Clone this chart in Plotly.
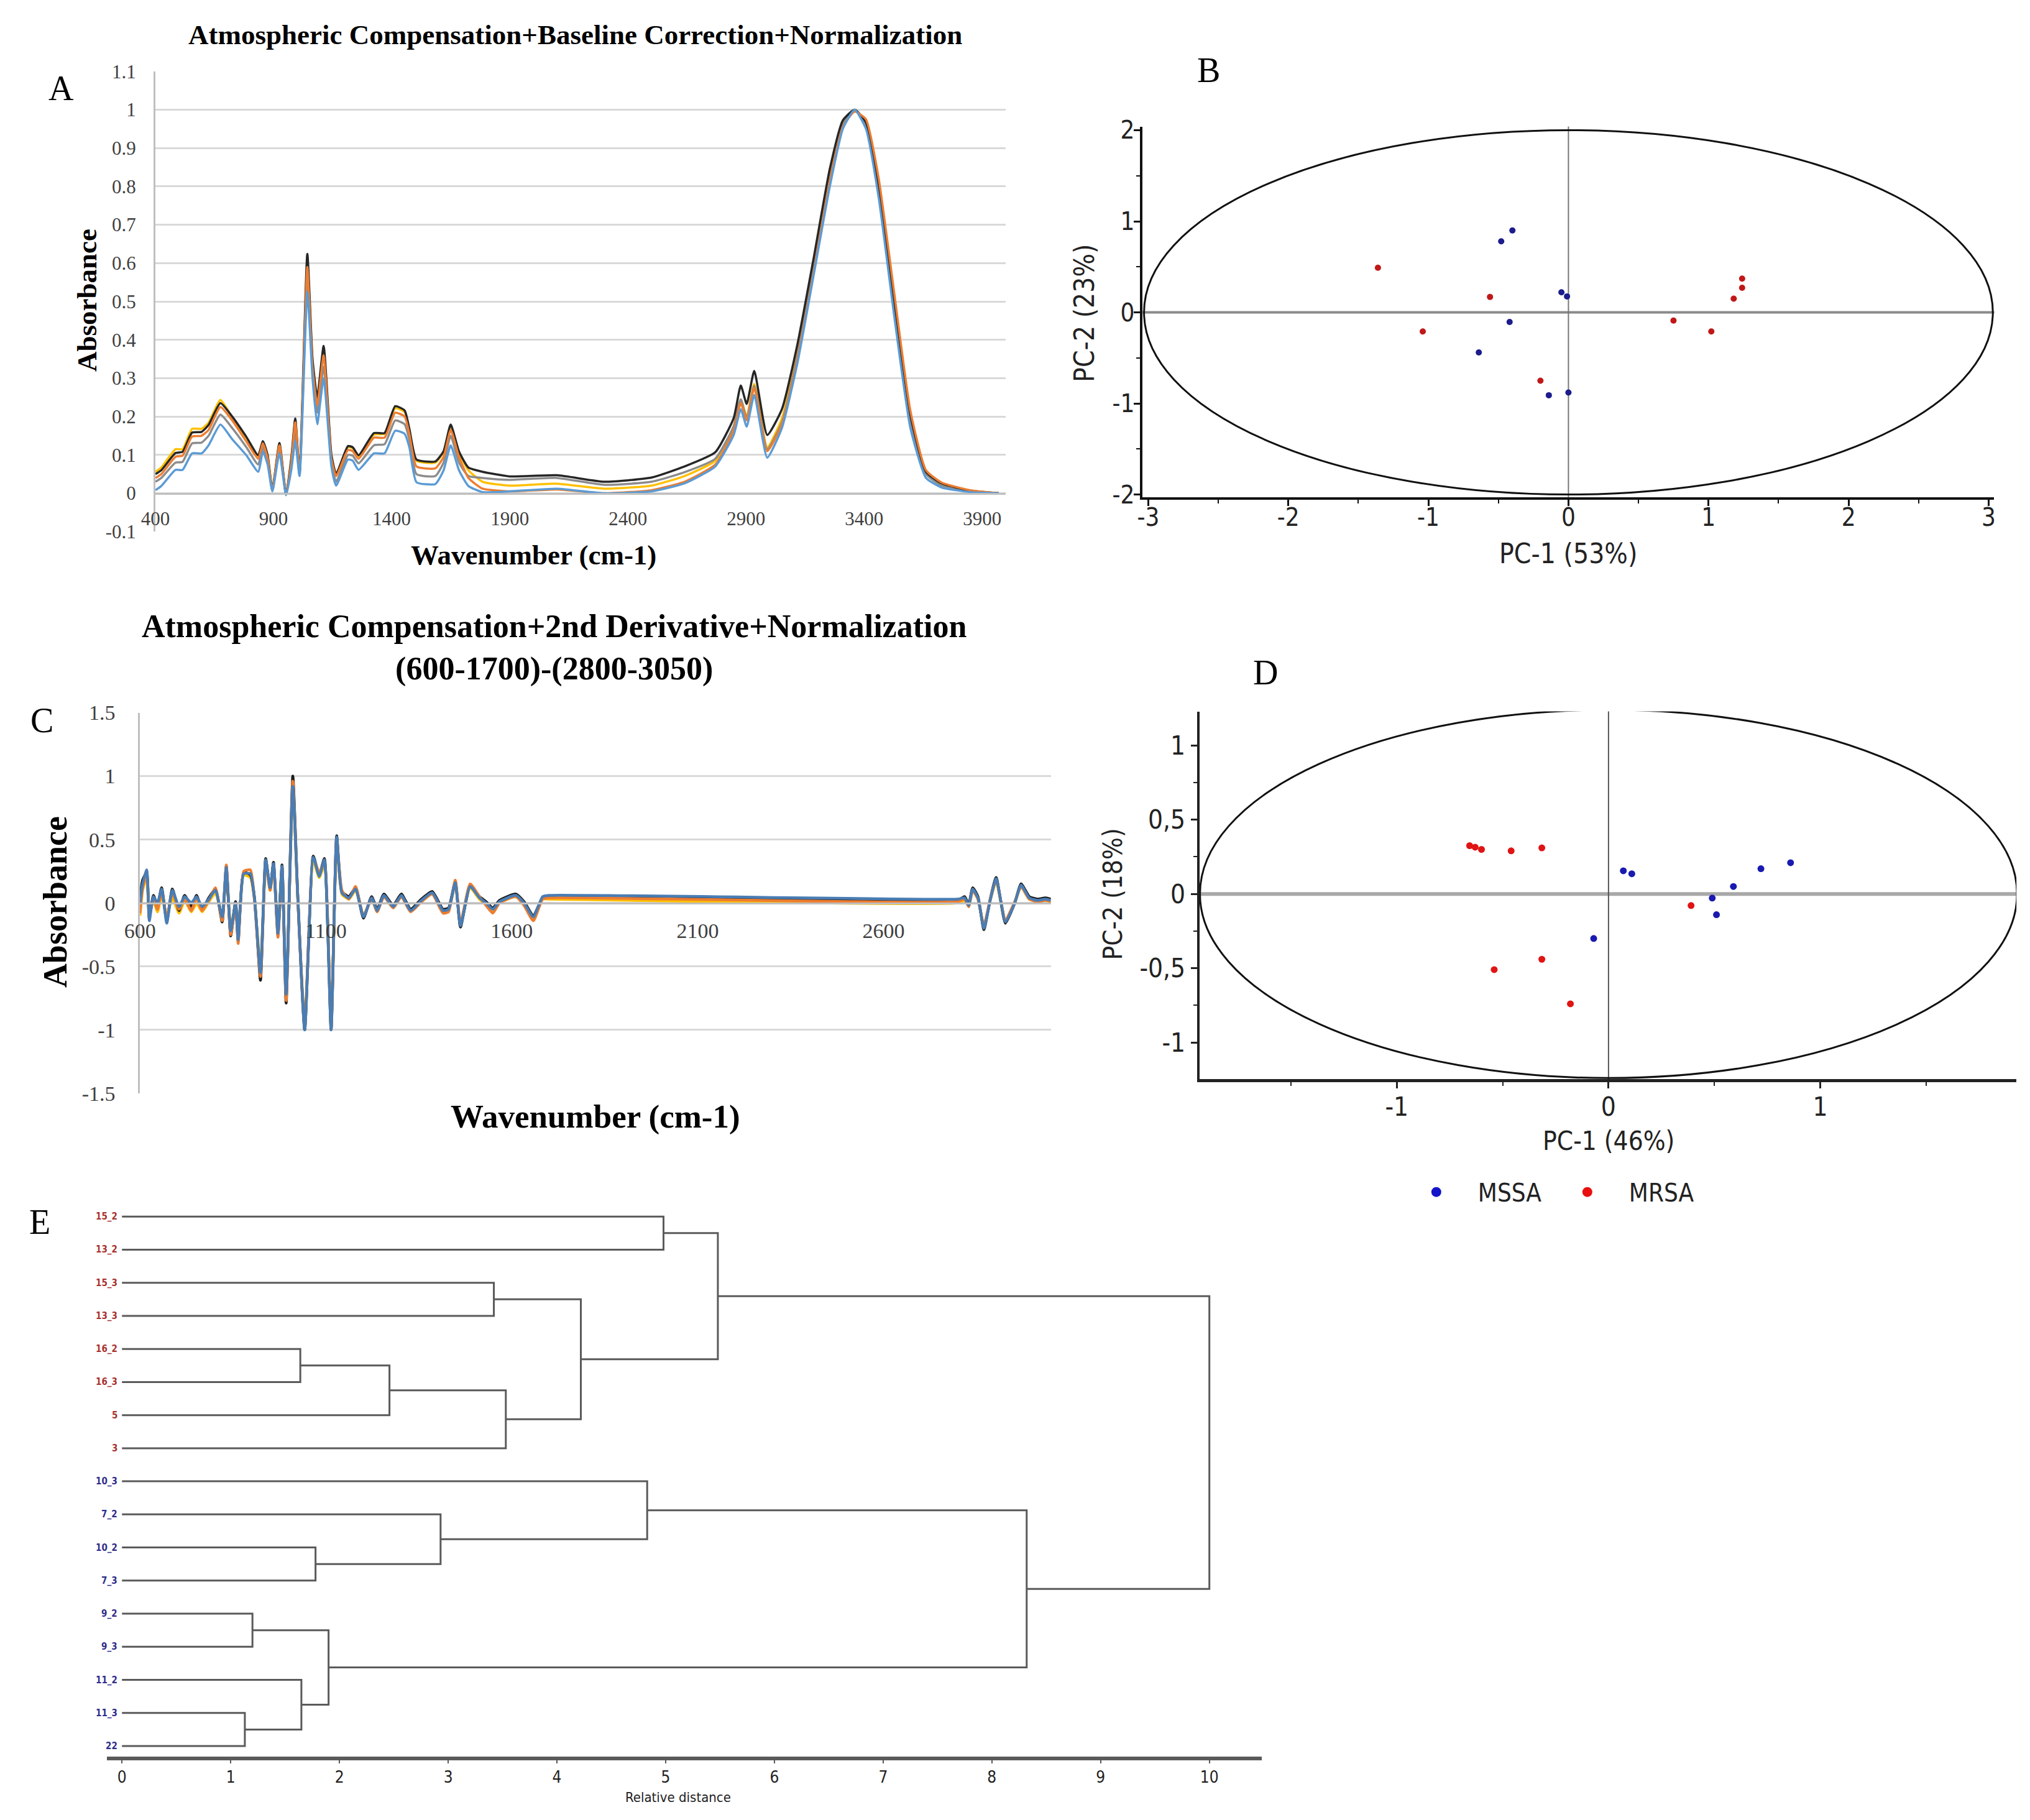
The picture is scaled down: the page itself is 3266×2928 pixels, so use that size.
import plotly.graph_objects as go

W, H = 3266, 2928
SERIF = "Liberation Serif, Times New Roman, serif"
NARROW = "Liberation Sans Narrow, Arial Narrow, DejaVu Sans Condensed, Liberation Sans, Arial, sans-serif"

# ---------------- Panel A : baseline-corrected spectra ----------------
WN_A = [400, 425, 485, 515, 555, 595, 625, 675, 725, 785,
        835, 855, 875, 895, 925, 953, 975, 992, 1010, 1043,
        1065, 1085, 1112, 1145, 1165, 1215, 1235, 1260, 1325, 1370,
        1415, 1455, 1475, 1505, 1585, 1620, 1650, 1685, 1725, 1785,
        1900, 2100, 2300, 2500, 2640, 2770, 2848, 2878, 2903, 2935,
        2990, 3052, 3118, 3186, 3255, 3310, 3360, 3408, 3462, 3528,
        3596, 3662, 3728, 3850, 3970]
A_GOLD = [.056, .067, .115, .115, .168, .168, .184, .243, .198, .145,
          .097, .134, .097, .011, .129, -.003, .088, .19, .052, .60,
          .345, .24, .37, .095, .05, .12, .118, .097, .153, .155,
          .222, .212, .165, .085, .08, .108, .176, .105, .06, .03,
          .02, .025, .012, .02, .045, .085, .175, .245, .2, .285,
          .12, .195, .37, .595, .83, .965, 1.0, .962, .79, .49,
          .195, .05, .022, .005, .0]
A_BLACK = [.05, .06, .105, .108, .158, .16, .178, .235, .2, .147,
           .099, .136, .099, .01, .131, -.002, .09, .195, .053, .624,
           .35, .25, .384, .1, .05, .123, .12, .099, .157, .157,
           .227, .216, .168, .088, .083, .11, .179, .109, .067, .056,
           .044, .047, .03, .041, .07, .107, .196, .281, .233, .319,
           .152, .219, .389, .611, .846, .972, 1.0, .967, .80, .50,
           .204, .056, .026, .007, .0]
A_ORANGE = [.04, .05, .095, .098, .148, .15, .165, .225, .19, .135,
            .09, .13, .092, .008, .125, -.004, .08, .185, .05, .59,
            .33, .23, .36, .09, .045, .113, .11, .09, .145, .145,
            .21, .2, .155, .07, .065, .095, .165, .095, .04, .012,
            .005, .01, .0, .008, .03, .075, .165, .235, .19, .275,
            .11, .18, .35, .575, .815, .955, .995, .975, .82, .52,
            .215, .06, .028, .008, .0]
A_GRAY = [.03, .04, .08, .082, .13, .132, .15, .205, .17, .12,
          .075, .12, .085, .007, .115, -.004, .072, .16, .048, .56,
          .32, .21, .33, .08, .03, .1, .098, .078, .125, .128,
          .19, .18, .14, .05, .045, .08, .15, .08, .045, .04,
          .035, .04, .022, .03, .055, .09, .175, .245, .195, .28,
          .115, .185, .36, .585, .825, .96, 1.0, .96, .785, .48,
          .19, .05, .02, .005, .0]
A_BLUE = [.008, .019, .061, .061, .104, .104, .125, .179, .141, .099,
          .056, .109, .075, .005, .105, -.005, .06, .136, .045, .525,
          .30, .18, .30, .07, .02, .088, .085, .061, .104, .104,
          .163, .155, .12, .029, .024, .06, .125, .06, .019, .003,
          .005, .012, .0, .005, .026, .07, .152, .219, .174, .256,
          .093, .17, .34, .567, .80, .95, 1.0, .95, .77, .46,
          .17, .04, .015, .003, .0]
A_SERIES = [("Spectrum 1", A_GOLD, "#FFC000"), ("Spectrum 2", A_GRAY, "#8C8C8C"),
            ("Spectrum 3", A_BLACK, "#262626"), ("Spectrum 4", A_ORANGE, "#ED7D31"),
            ("Spectrum 5", A_BLUE, "#5B9BD5")]
A_XTICKS = [400, 900, 1400, 1900, 2400, 2900, 3400, 3900]
A_YTICKS = [-0.1, 0, 0.1, 0.2, 0.3, 0.4, 0.5, 0.6, 0.7, 0.8, 0.9, 1, 1.1]
A_YLABELS = ["-0.1", "0", "0.1", "0.2", "0.3", "0.4", "0.5", "0.6", "0.7", "0.8", "0.9", "1", "1.1"]

# ---------------- Panel C : second derivative spectra ----------------
WN_C = [600, 607, 618, 625, 636, 647, 658, 672, 687, 705,
        720, 738, 752, 767, 785, 803, 821, 832, 844, 857,
        864, 879, 897, 908, 924, 938, 950, 959, 971, 982,
        993, 1011, 1024, 1043, 1066, 1082, 1096, 1114, 1129, 1143,
        1162, 1180, 1201, 1223, 1238, 1256, 1281, 1303, 1328, 1357,
        1386, 1415, 1430, 1448, 1462, 1488, 1513, 1531, 1549, 1567,
        1611, 1633, 1658, 1683, 1700, 2800, 2818, 2829, 2840, 2854,
        2870, 2887, 2903, 2928, 2953, 2970, 2992, 3014, 3036, 3050]
C_BLUE = [0.0, 0.15, 0.26, -0.14, 0.05, 0.0, 0.11, -0.16, 0.10, -0.03,
          0.05, 0.0, 0.05, -0.03, 0.03, 0.10, -0.11, 0.28, -0.22, 0.0,
          -0.29, 0.23, 0.23, 0.03, -0.55, 0.34, 0.12, 0.31, -0.24, 0.29,
          -0.72, 0.92, 0.08, -1.0, 0.36, 0.21, 0.34, -1.0, 0.52, 0.08,
          0.04, 0.11, -0.11, 0.04, -0.06, 0.06, -0.03, 0.06, -0.06, 0.02,
          0.08, -0.06, -0.05, 0.16, -0.18, 0.13, 0.04, 0.0, -0.05, 0.01,
          0.06, 0.0, -0.11, 0.05, 0.06, 0.03, 0.04, -0.02, 0.11, 0.04,
          -0.20, 0.02, 0.19, -0.15, 0.0, 0.14, 0.04, 0.02, 0.03, 0.02]
C_ORANGE = [-0.08, 0.12, 0.22, -0.10, 0.03, -0.05, 0.09, -0.12, 0.08, -0.05,
            0.03, -0.06, 0.04, -0.06, 0.02, 0.12, -0.14, 0.30, -0.25, -0.02,
            -0.32, 0.25, 0.26, 0.02, -0.58, 0.32, 0.10, 0.30, -0.27, 0.28,
            -0.77, 0.96, 0.06, -0.98, 0.35, 0.24, 0.32, -0.98, 0.50, 0.10,
            0.03, 0.13, -0.10, 0.03, -0.07, 0.05, -0.04, 0.05, -0.07, 0.01,
            0.07, -0.08, -0.07, 0.18, -0.16, 0.15, 0.05, -0.02, -0.08, 0.0,
            0.05, -0.02, -0.14, 0.03, 0.04, 0.01, 0.03, -0.03, 0.10, 0.03,
            -0.18, 0.03, 0.18, -0.13, 0.01, 0.13, 0.03, 0.01, 0.02, 0.01]
C_BLACK = [0.05, 0.18, 0.24, -0.12, 0.06, -0.02, 0.12, -0.14, 0.11, -0.06,
           0.06, -0.03, 0.06, -0.05, 0.04, 0.11, -0.15, 0.29, -0.26, 0.01,
           -0.30, 0.24, 0.22, 0.04, -0.61, 0.35, 0.11, 0.32, -0.25, 0.30,
           -0.79, 1.0, 0.07, -1.0, 0.37, 0.22, 0.35, -1.0, 0.53, 0.09,
           0.05, 0.12, -0.12, 0.05, -0.05, 0.07, -0.02, 0.07, -0.05, 0.03,
           0.09, -0.05, -0.04, 0.17, -0.19, 0.14, 0.05, 0.01, -0.04, 0.02,
           0.07, 0.01, -0.10, 0.04, 0.05, 0.02, 0.05, -0.01, 0.12, 0.05,
           -0.21, 0.03, 0.20, -0.16, 0.0, 0.15, 0.05, 0.03, 0.04, 0.03]
C_GOLD = [-0.10, 0.10, 0.20, -0.08, 0.02, -0.07, 0.06, -0.10, 0.04, -0.08,
          0.02, -0.07, 0.0, -0.07, 0.01, 0.08, -0.10, 0.24, -0.20, 0.0,
          -0.27, 0.22, 0.20, 0.02, -0.50, 0.30, 0.10, 0.28, -0.20, 0.26,
          -0.70, 0.90, 0.06, -0.95, 0.33, 0.20, 0.30, -0.95, 0.48, 0.07,
          0.03, 0.10, -0.10, 0.03, -0.06, 0.05, -0.03, 0.05, -0.06, 0.01,
          0.07, -0.06, -0.05, 0.15, -0.17, 0.12, 0.03, -0.01, -0.06, 0.0,
          0.05, -0.01, -0.12, 0.03, 0.03, 0.0, 0.02, -0.02, 0.10, 0.03,
          -0.18, 0.02, 0.17, -0.14, 0.0, 0.13, 0.03, 0.01, 0.02, 0.01]
C_SERIES = [("Spectrum 1", C_GOLD, "#FFC000"), ("Spectrum 2", C_BLACK, "#1A1A1A"),
            ("Spectrum 3", C_ORANGE, "#ED7D31"), ("Spectrum 4", C_BLUE, "#4A7DB4")]
C_XTICKS = [600, 1100, 1600, 2100, 2600]
C_YTICKS = [-1.5, -1, -0.5, 0, 0.5, 1, 1.5]
C_YLABELS = ["-1.5", "-1", "-0.5", "0", "0.5", "1", "1.5"]

# ---------------- Panel B : PCA scores ----------------
B_MSSA_X = [-0.40, -0.48, -0.05, -0.01, -0.42, -0.64, -0.14, 0.0]
B_MSSA_Y = [0.90, 0.78, 0.22, 0.175, -0.105, -0.44, -0.91, -0.88]
B_MRSA_X = [-1.36, -0.56, -1.04, -0.20, 0.75, 1.02, 1.18, 1.24, 1.24]
B_MRSA_Y = [0.49, 0.17, -0.21, -0.75, -0.09, -0.21, 0.15, 0.27, 0.37]
B_ELLIPSE = (3.03, 2.0)
B_TICKS_X = [-3, -2, -1, 0, 1, 2, 3]
B_TICKS_Y = [-2, -1, 0, 1, 2]

# ---------------- Panel D : PCA scores ----------------
D_MSSA_X = [0.07, 0.11, 0.59, 0.49, 0.51, 0.72, 0.86, -0.07]
D_MSSA_Y = [0.156, 0.136, 0.05, -0.028, -0.14, 0.17, 0.21, -0.30]
D_MRSA_X = [-0.656, -0.63, -0.60, -0.46, -0.315, 0.39, -0.315, -0.54, -0.18]
D_MRSA_Y = [0.325, 0.315, 0.30, 0.29, 0.31, -0.078, -0.44, -0.51, -0.74]
D_ELLIPSE = (1.93, 1.24)
D_TICKS_X = [-1, 0, 1]
D_TICKS_Y = [-1, -0.5, 0, 0.5, 1]
D_LABELS_Y = ["-1", "-0,5", "0", "0,5", "1"]
GROUPS = ["MSSA", "MRSA"]
GROUP_COLORS = {"MSSA": "#1414C8", "MRSA": "#E81010"}

# ---------------- Panel E : dendrogram ----------------
LEAVES = ["15_2", "13_2", "15_3", "13_3", "16_2", "16_3", "5", "3",
          "10_3", "7_2", "10_2", "7_3", "9_2", "9_3", "11_2", "11_3", "22"]
LEAF_GROUP = ["MRSA"] * 8 + ["MSSA"] * 9
MERGE_A = [0, 2, 4, 19, 20, 18, 17, 10, 9, 8, 12, 15, 14, 27, 26, 23]
MERGE_B = [1, 3, 5, 6, 7, 21, 22, 11, 24, 25, 13, 16, 28, 29, 30, 31]
MERGE_H = [4.98, 3.42, 1.64, 2.46, 3.53, 4.22, 5.48, 1.78, 2.93, 4.83,
           1.20, 1.13, 1.65, 1.90, 8.32, 10.0]
E_TICKS = [0, 1, 2, 3, 4, 5, 6, 7, 8, 9, 10]


def dom_x(left, right):
    return [left / W, right / W]


def dom_y(top, bottom):
    return [1 - bottom / H, 1 - top / H]


def zero_position(dom, rng):
    return dom[0] + (0 - rng[0]) / (rng[1] - rng[0]) * (dom[1] - dom[0])


fig = go.Figure()

for name, vals, col in A_SERIES:
    fig.add_trace(go.Scatter(x=WN_A, y=vals, mode="lines", name=name, showlegend=False,
                             line=dict(color=col, width=3.5, shape="spline", smoothing=0.5),
                             xaxis="x", yaxis="y"))

for name, vals, col in C_SERIES:
    fig.add_trace(go.Scatter(x=WN_C, y=vals, mode="lines", name=name, showlegend=False,
                             line=dict(color=col, width=4.5, shape="spline", smoothing=0.5),
                             xaxis="x3", yaxis="y3"))

fig.add_trace(go.Scatter(x=B_MSSA_X, y=B_MSSA_Y, mode="markers", name="MSSA", showlegend=False,
                         legendgroup="MSSA", marker=dict(color="#1C1C8C", size=10),
                         xaxis="x2", yaxis="y2"))
fig.add_trace(go.Scatter(x=B_MRSA_X, y=B_MRSA_Y, mode="markers", name="MRSA", showlegend=False,
                         legendgroup="MRSA", marker=dict(color="#C01818", size=10),
                         xaxis="x2", yaxis="y2"))

fig.add_trace(go.Scatter(x=D_MSSA_X, y=D_MSSA_Y, mode="markers", name="MSSA", showlegend=False,
                         legendgroup="MSSA", marker=dict(color="#1A1AB0", size=11),
                         xaxis="x4", yaxis="y4"))
fig.add_trace(go.Scatter(x=D_MRSA_X, y=D_MRSA_Y, mode="markers", name="MRSA", showlegend=False,
                         legendgroup="MRSA", marker=dict(color="#E01414", size=11),
                         xaxis="x4", yaxis="y4"))
for g in GROUPS:
    fig.add_trace(go.Scatter(x=[None], y=[None], mode="markers", name=g, legendgroup=g,
                             showlegend=True, marker=dict(color=GROUP_COLORS[g], size=16),
                             xaxis="x4", yaxis="y4"))

node_x = {i: 0.0 for i in range(len(LEAVES))}
node_y = {i: float(i) for i in range(len(LEAVES))}
dx, dy = [], []
for k, (a, b, h) in enumerate(zip(MERGE_A, MERGE_B, MERGE_H)):
    nid = len(LEAVES) + k
    dx += [node_x[a], h, h, node_x[b], None]
    dy += [node_y[a], node_y[a], node_y[b], node_y[b], None]
    node_x[nid] = h
    node_y[nid] = (node_y[a] + node_y[b]) / 2
fig.add_trace(go.Scatter(x=dx, y=dy, mode="lines", name="dendrogram", showlegend=False,
                         line=dict(color="#5A5A5A", width=3), xaxis="x5", yaxis="y5"))

A_XDOM, A_YDOM = dom_x(226, 1606), dom_y(98, 848)
A_XR, A_YR = [400, 4000], [-0.1, 1.1]
B_XDOM, B_YDOM = dom_x(1828, 3210), dom_y(188, 792)
B_XR, B_YR = [-3.04, 3.04], [-2.03, 2.04]
C_XDOM, C_YDOM = dom_x(201, 1679), dom_y(1143, 1763)
C_XR, C_YR = [600, 3050], [-1.5, 1.5]
D_XDOM, D_YDOM = dom_x(1920, 3246), dom_y(1141, 1740)
D_XR, D_YR = [-1.933, 1.927], [-1.247, 1.229]
E_XDOM, E_YDOM = dom_x(147, 2021), dom_y(1950, 2844)
E_XR, E_YR = [-0.14, 10.48], [16.32, -0.26]

serif_tick = dict(family=SERIF, size=31, color="#404040")
serif_tick_c = dict(family=SERIF, size=34, color="#404040")
narrow_tick = dict(family=NARROW, size=40, color="#222222")
narrow_tick_d = dict(family=NARROW, size=42, color="#222222")

layout = dict(
    width=W, height=H, margin=dict(l=0, r=0, t=0, b=0),
    paper_bgcolor="white", plot_bgcolor="white",
    xaxis=dict(domain=A_XDOM, range=A_XR, anchor="free", position=zero_position(A_YDOM, A_YR),
               tickmode="array", tickvals=A_XTICKS, ticktext=[str(v) for v in A_XTICKS],
               showgrid=False, zeroline=False, showline=True, linecolor="#BFBFBF", linewidth=3,
               ticks="outside", ticklen=12, tickcolor="rgba(0,0,0,0)", tickfont=serif_tick),
    yaxis=dict(domain=A_YDOM, range=A_YR, anchor="x", tickmode="array", tickvals=A_YTICKS,
               ticktext=A_YLABELS, showgrid=True, gridcolor="#D9D9D9", gridwidth=3,
               zeroline=False, showline=True, linecolor="#BFBFBF", linewidth=3,
               ticks="outside", ticklen=22, tickcolor="rgba(0,0,0,0)", tickfont=serif_tick),
    xaxis3=dict(domain=C_XDOM, range=C_XR, anchor="free", position=zero_position(C_YDOM, C_YR),
                tickmode="array", tickvals=C_XTICKS, ticktext=[str(v) for v in C_XTICKS],
                showgrid=False, zeroline=False, showline=True, linecolor="#BFBFBF", linewidth=3,
                ticks="outside", ticklen=14, tickcolor="rgba(0,0,0,0)", tickfont=serif_tick_c),
    yaxis3=dict(domain=C_YDOM, range=C_YR, anchor="x3", tickmode="array", tickvals=C_YTICKS,
                ticktext=C_YLABELS, showgrid=True, gridcolor="#D9D9D9", gridwidth=3,
                zeroline=False, showline=True, linecolor="#BFBFBF", linewidth=3,
                ticks="outside", ticklen=30, tickcolor="rgba(0,0,0,0)", tickfont=serif_tick_c),
    xaxis2=dict(domain=B_XDOM, range=B_XR, anchor="y2", tickmode="array", tickvals=B_TICKS_X,
                ticktext=[str(v) for v in B_TICKS_X], showgrid=False, zeroline=False,
                showline=True, linecolor="#111111", linewidth=4, ticks="outside", ticklen=10,
                tickwidth=3, tickcolor="#111111", tickfont=narrow_tick, ticklabelstandoff=-16,
                minor=dict(dtick=0.5, tick0=0, ticks="outside", ticklen=6, tickwidth=2,
                           tickcolor="#111111", showgrid=False)),
    yaxis2=dict(domain=B_YDOM, range=B_YR, anchor="x2", tickmode="array", tickvals=B_TICKS_Y,
                ticktext=[str(v) for v in B_TICKS_Y], showgrid=False, zeroline=False,
                showline=True, linecolor="#111111", linewidth=4, ticks="outside", ticklen=10,
                tickwidth=3, tickcolor="#111111", tickfont=narrow_tick, ticklabelstandoff=-9,
                minor=dict(dtick=0.5, tick0=0, ticks="outside", ticklen=6, tickwidth=2,
                           tickcolor="#111111", showgrid=False)),
    xaxis4=dict(domain=D_XDOM, range=D_XR, anchor="y4", tickmode="array", tickvals=D_TICKS_X,
                ticktext=[str(v) for v in D_TICKS_X], showgrid=False, zeroline=False,
                showline=True, linecolor="#222222", linewidth=5, ticks="outside", ticklen=10,
                tickwidth=3, tickcolor="#222222", tickfont=narrow_tick_d, ticklabelstandoff=-6,
                minor=dict(dtick=0.5, tick0=0, ticks="outside", ticklen=6, tickwidth=2,
                           tickcolor="#222222", showgrid=False)),
    yaxis4=dict(domain=D_YDOM, range=D_YR, anchor="x4", tickmode="array", tickvals=D_TICKS_Y,
                ticktext=D_LABELS_Y, showgrid=False, zeroline=False,
                showline=True, linecolor="#222222", linewidth=4, ticks="outside", ticklen=10,
                tickwidth=3, tickcolor="#222222", tickfont=narrow_tick_d,
                minor=dict(dtick=0.25, tick0=0, ticks="outside", ticklen=6, tickwidth=2,
                           tickcolor="#222222", showgrid=False)),
    xaxis5=dict(domain=E_XDOM, range=E_XR, anchor="y5", tickmode="array", tickvals=E_TICKS,
                ticktext=[str(v) for v in E_TICKS], showgrid=False, zeroline=False,
                showline=True, linecolor="#5A5A5A", linewidth=6, ticks="outside", ticklen=5,
                tickwidth=2, tickcolor="#5A5A5A",
                tickfont=dict(family=NARROW, size=26, color="#222222")),
    yaxis5=dict(domain=E_YDOM, range=E_YR, anchor="x5", visible=False),
    legend=dict(orientation="h", x=2237 / W, y=1 - 1924 / H, xanchor="left",
                yanchor="middle", font=dict(family=NARROW, size=40, color="#222222"),
                bgcolor="rgba(0,0,0,0)", itemwidth=124, itemsizing="trace",
                entrywidth=104, entrywidthmode="pixels", itemclick=False, itemdoubleclick=False),
)

shapes = []
for xa, ya, (ea, eb) in (("x2", "y2", B_ELLIPSE), ("x4", "y4", D_ELLIPSE)):
    shapes.append(dict(type="circle", xref=xa, yref=ya, x0=-ea, x1=ea, y0=-eb, y1=eb,
                       line=dict(color="#111111", width=3), layer="below"))
shapes.append(dict(type="line", xref="x2 domain", yref="y2", x0=0, x1=1, y0=0, y1=0,
                   line=dict(color="#8A8A8A", width=4), layer="below"))
shapes.append(dict(type="line", xref="x2", yref="y2 domain", x0=0, x1=0, y0=0, y1=1,
                   line=dict(color="#777777", width=2), layer="below"))
shapes.append(dict(type="line", xref="x4 domain", yref="y4", x0=0, x1=1, y0=0, y1=0,
                   line=dict(color="#A8A8A8", width=6), layer="below"))
shapes.append(dict(type="line", xref="x4", yref="y4 domain", x0=0, x1=0, y0=0, y1=1,
                   line=dict(color="#555555", width=2), layer="below"))
layout["shapes"] = shapes


def ann(text, px, py, size, family=SERIF, bold=False, angle=0, color="#000000", **kw):
    t = "<b>" + text + "</b>" if bold else text
    d = dict(text=t, x=px / W, y=1 - py / H, xref="paper", yref="paper", showarrow=False,
             xanchor="center", yanchor="middle", textangle=angle,
             font=dict(family=family, size=size, color=color))
    d.update(kw)
    return d


annotations = [
    ann("Atmospheric Compensation+Baseline Correction+Normalization", 907, 38, 45, bold=True),
    ann("Atmospheric Compensation+2nd Derivative+Normalization<br>(600-1700)-(2800-3050)",
        873, 1037, 52, bold=True),
    ann("Wavenumber (cm-1)", 840, 886, 45, bold=True),
    ann("Absorbance", 115, 471, 45, bold=True, angle=-90),
    ann("Wavenumber (cm-1)", 940, 1801, 53, bold=True),
    ann("Absorbance", 63, 1451, 54, bold=True, angle=-90),
    ann("PC-1 (53%)", 2519, 884, 44, family=NARROW, color="#222222"),
    ann("PC-2 (23%)", 1734, 492, 44, family=NARROW, color="#222222", angle=-90),
    ann("PC-1 (46%)", 2584, 1841, 42, family=NARROW, color="#222222"),
    ann("PC-2 (18%)", 1780, 1439, 42, family=NARROW, color="#222222", angle=-90),
    ann("Relative distance", 1074, 2910, 22, family=NARROW, color="#222222"),
    ann("A", 73, 126, 56),
    ann("B", 1935, 96, 56),
    ann("C", 42, 1156, 56),
    ann("D", 2027, 1078, 56),
    ann("E", 38, 1973, 56),
]
for i, (lab, grp) in enumerate(zip(LEAVES, LEAF_GROUP)):
    annotations.append(dict(text="<b>" + lab + "</b>", x=0, y=i, xref="x5", yref="y5",
                            showarrow=False, xanchor="right", yanchor="middle", xshift=-5,
                            font=dict(family=NARROW, size=15,
                                      color="#A83232" if grp == "MRSA" else "#2E2E8C")))
layout["annotations"] = annotations

fig.update_layout(**layout)
fig.write_html("out.html", config={"displayModeBar": False},
               post_script="document.body.style.margin='0';document.body.style.overflow='hidden';")
